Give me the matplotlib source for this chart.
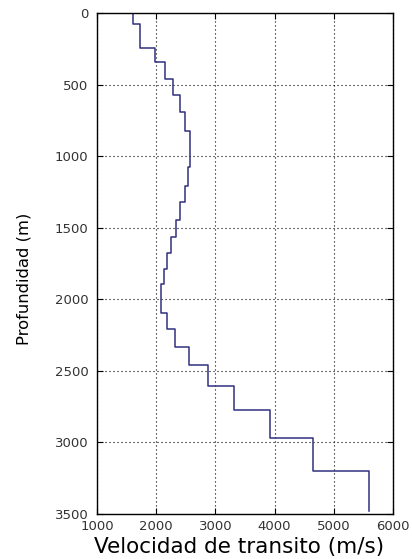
import matplotlib
matplotlib.use("Agg")
import matplotlib.pyplot as plt

# Layer tops (m) and interval velocities (m/s)
depth_top = [0, 77, 247, 345, 461, 573, 690, 822, 1074, 1209, 1319, 1447,
             1568, 1680, 1785, 1896, 2099, 2210, 2332, 2462, 2607, 2770, 2968, 3198]
depth_end = 3478
velocity = [1605, 1723, 1976, 2145, 2280, 2410, 2494, 2567, 2540, 2482, 2410, 2340,
            2250, 2174, 2128, 2089, 2174, 2314, 2550, 2870, 3309, 3916, 4641, 5597]

xticks = [1000, 2000, 3000, 4000, 5000, 6000]
yticks = [0, 500, 1000, 1500, 2000, 2500, 3000, 3500]

plt.rcParams['font.family'] = ['DejaVu Sans']

fig = plt.figure(figsize=(4.12, 5.59), dpi=100)
ax = fig.add_axes([97/412, 1-514/559, 296/412, 501/559])

x = velocity + [velocity[-1]]
y = depth_top + [depth_end]
ax.plot(x, y, drawstyle='steps-pre', color='#30307f', lw=1.1)

ax.set_xlim(1000, 6000)
ax.set_ylim(3500, 0)
ax.set_xticks(xticks)
ax.set_yticks(yticks)
ax.grid(True, linestyle=(0, (1, 2.6)), color='black', lw=0.8)
ax.tick_params(direction='in', top=True, right=True, length=4, labelsize=9.5,
               labelcolor='#333333')
ax.tick_params(axis='x', pad=4.5)
ax.tick_params(axis='y', pad=6)
for s in ax.spines.values():
    s.set_linewidth(1.0)

ax.set_xlabel('Velocidad de transito (m/s)', fontsize=15.5)
ax.xaxis.set_label_coords(0.481, -0.0775)
ax.xaxis.label.set_va('baseline')
ax.set_ylabel('Profundidad (m)', fontsize=11.8)
ax.yaxis.set_label_coords(-0.2466, 0.469)
ax.yaxis.label.set_va('center')
ax.yaxis.label.set_ha('center')

fig.savefig('out.png', dpi=100)
